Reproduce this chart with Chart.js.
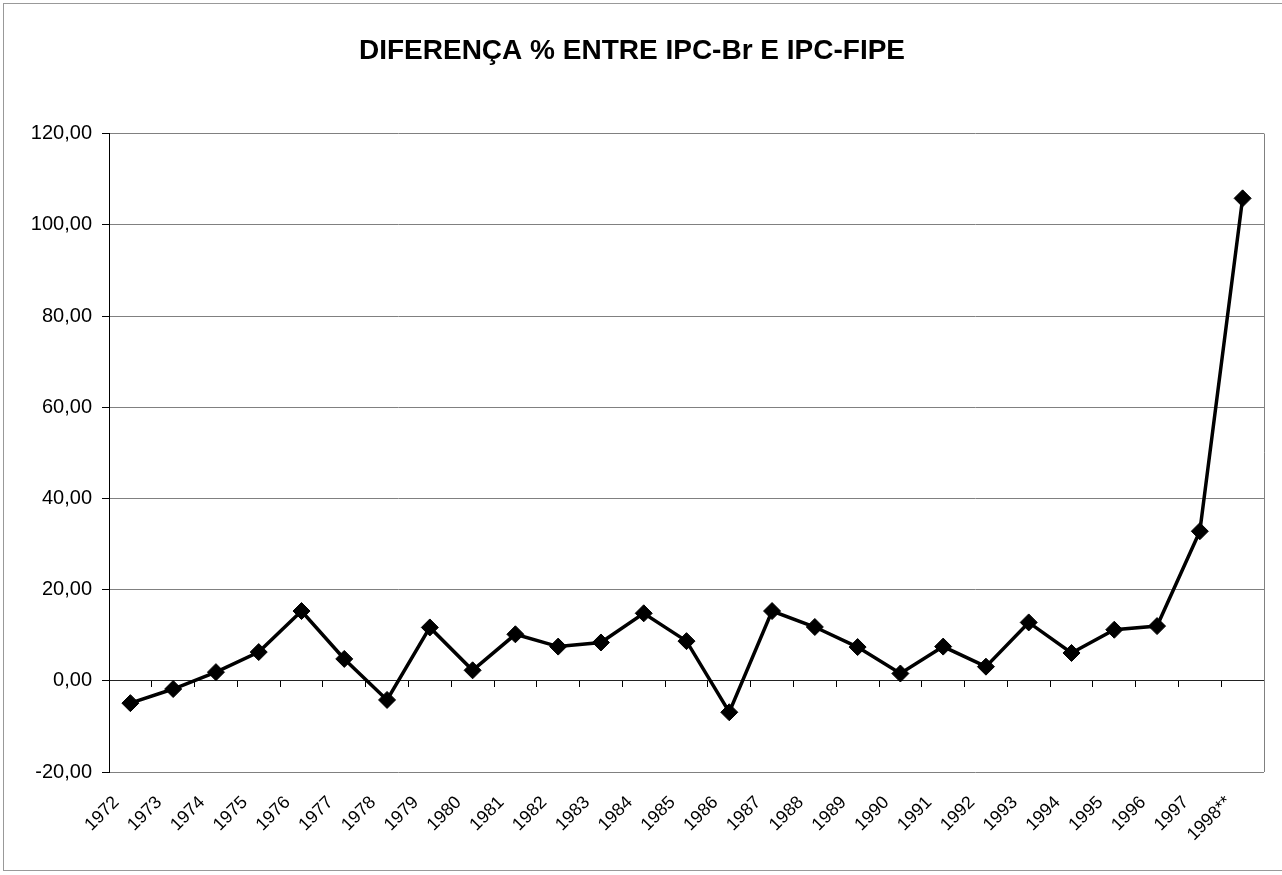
<!DOCTYPE html>
<html>
<head>
<meta charset="utf-8">
<title>Diferença % entre IPC-Br e IPC-FIPE</title>
<script src="https://cdn.jsdelivr.net/npm/chart.js@4.4.1/dist/chart.umd.min.js"></script>
<style>
  html, body { margin: 0; padding: 0; background: #fff; }
  #wrap { width: 1282px; height: 875px; position: relative; }
</style>
</head>
<body>
<div id="wrap"><canvas id="grafico" width="1282" height="875"></canvas></div>
<script>
// anos (categorias) e diferença % entre IPC-Br e IPC-FIPE
const anos = ['1972', '1973', '1974', '1975', '1976', '1977', '1978', '1979', '1980',
  '1981', '1982', '1983', '1984', '1985', '1986', '1987', '1988', '1989', '1990',
  '1991', '1992', '1993', '1994', '1995', '1996', '1997', '1998**'];
const diferenca = [-4.9, -1.8, 1.9, 6.3, 15.3, 4.8, -4.2, 11.7, 2.3,
  10.2, 7.5, 8.4, 14.8, 8.7, -6.9, 15.3, 11.8, 7.4, 1.6,
  7.5, 3.1, 12.8, 6.1, 11.2, 12.0, 32.8, 105.8];
const eixoY = { min: -20, max: 120, passo: 20 };

const fonte = "'Liberation Sans', Arial, sans-serif";

// moldura do gráfico e borda da área de plotagem
const molduras = {
  id: 'molduras',
  beforeDraw(chart) {
    const ctx = chart.ctx;
    ctx.save();
    ctx.fillStyle = '#fff';
    ctx.fillRect(0, 0, chart.width, chart.height);
    ctx.strokeStyle = '#999';
    ctx.lineWidth = 1;
    ctx.strokeRect(3.5, 3.5, chart.width + 10, chart.height - 8);
    ctx.restore();
  },
  afterDraw(chart) {
    const a = chart.chartArea;
    const ctx = chart.ctx;
    ctx.save();
    ctx.strokeStyle = '#808080';
    ctx.lineWidth = 1;
    ctx.beginPath();
    ctx.moveTo(Math.round(a.right) + 0.5, a.top);
    ctx.lineTo(Math.round(a.right) + 0.5, a.bottom);
    ctx.stroke();
    ctx.restore();
  }
};

new Chart(document.getElementById('grafico'), {
  type: 'line',
  data: {
    labels: anos,
    datasets: [{
      data: diferenca,
      borderColor: '#000',
      backgroundColor: '#000',
      borderWidth: 3.5,
      tension: 0,
      pointStyle: 'rectRot',
      pointRadius: 8.5,
      pointHoverRadius: 8.5,
      pointBorderWidth: 1,
      pointBackgroundColor: '#000',
      pointBorderColor: '#000'
    }]
  },
  options: {
    responsive: false,
    animation: false,
    layout: { padding: { left: 0, right: 18, top: 0, bottom: 0 } },
    plugins: {
      legend: { display: false },
      tooltip: { enabled: false },
      title: {
        display: true,
        text: 'DIFERENÇA % ENTRE IPC-Br E IPC-FIPE',
        color: '#000',
        font: { family: fonte, size: 28, weight: 'bold' },
        padding: { top: 34, bottom: 66 }
      }
    },
    scales: {
      x: {
        type: 'category',
        offset: true,
        grid: { display: false, drawTicks: false },
        border: { display: false },
        ticks: {
          autoSkip: false,
          minRotation: 45,
          maxRotation: 45,
          padding: 20,
          labelOffset: -14,
          color: '#000',
          font: { family: fonte, size: 18 }
        },
        afterFit(scale) { scale.height = 103; }
      },
      xZero: {
        type: 'category',
        labels: anos,
        offset: true,
        position: { y: 0 },
        grid: { offset: true, drawOnChartArea: false, tickLength: 6, color: '#000' },
        border: { display: true, color: '#222', width: 1 },
        ticks: { display: false }
      },
      y: {
        min: eixoY.min,
        max: eixoY.max,
        ticks: {
          stepSize: eixoY.passo,
          padding: 10,
          color: '#000',
          font: { family: fonte, size: 20 },
          callback: v => v.toFixed(2).replace('.', ',')
        },
        grid: { color: '#808080', tickLength: 7, tickColor: '#000' },
        border: { display: true, color: '#000', width: 1 },
        afterFit(scale) { scale.width = 109; }
      }
    }
  },
  plugins: [molduras]
});
</script>
</body>
</html>
